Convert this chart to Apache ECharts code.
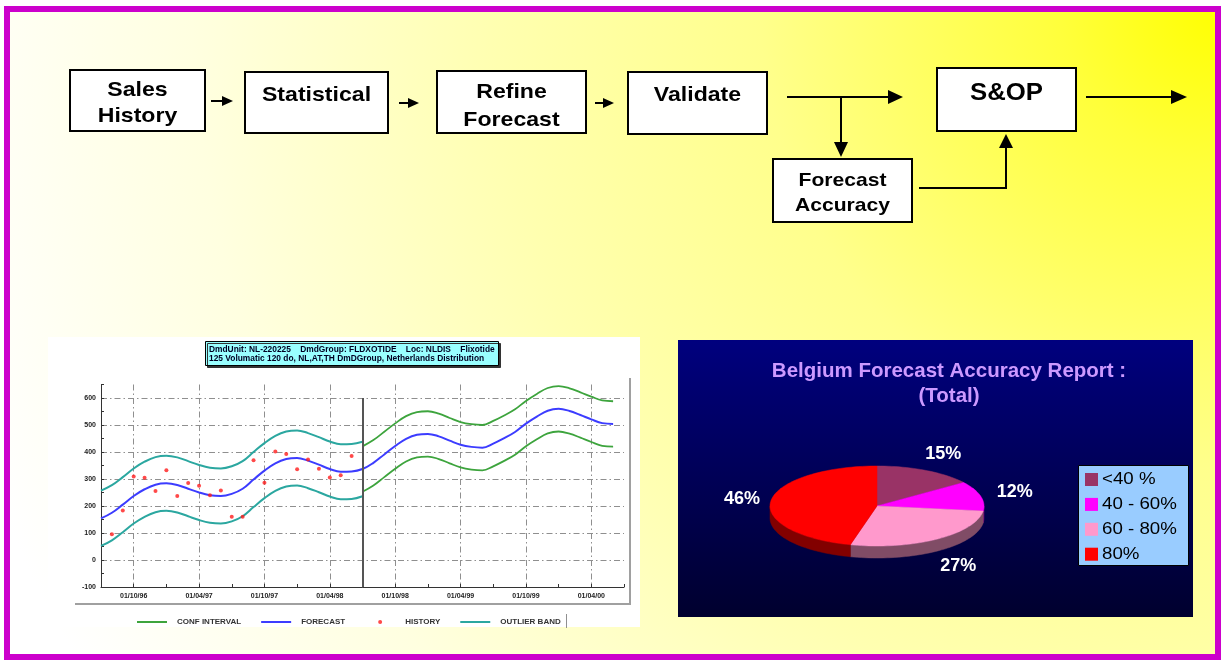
<!DOCTYPE html>
<html>
<head>
<meta charset="utf-8">
<title>Demand planning cycle</title>
<script src="https://cdn.jsdelivr.net/npm/echarts@6/dist/echarts.min.js"></script>
<style>
  html, body { margin: 0; padding: 0; background: #ffffff; }
  #main { width: 1226px; height: 662px; }
</style>
</head>
<body>
<div id="main"></div>
<script>
// ---------- process flow ----------
const processSteps = ['Sales\nHistory', 'Statistical', 'Refine\nForecast', 'Validate', 'Forecast\nAccuracy', 'S&OP'];

// ---------- forecast chart (monthly, dd/mm/yy) ----------
const months = [
  '01/07/96', '01/08/96', '01/09/96', '01/10/96', '01/11/96', '01/12/96',
  '01/01/97', '01/02/97', '01/03/97', '01/04/97', '01/05/97', '01/06/97',
  '01/07/97', '01/08/97', '01/09/97', '01/10/97', '01/11/97', '01/12/97',
  '01/01/98', '01/02/98', '01/03/98', '01/04/98', '01/05/98', '01/06/98',
  '01/07/98', '01/08/98', '01/09/98', '01/10/98', '01/11/98', '01/12/98',
  '01/01/99', '01/02/99', '01/03/99', '01/04/99', '01/05/99', '01/06/99',
  '01/07/99', '01/08/99', '01/09/99', '01/10/99', '01/11/99', '01/12/99',
  '01/01/00', '01/02/00', '01/03/00', '01/04/00', '01/05/00', '01/06/00',
  '01/07/00'
];
const historyStart = '01/08/96';
const forecastStart = '01/07/98';

const history = [95, 183, 309, 305, 256, 332, 237, 285, 275, 240, 257, 160,
  160, 369, 286, 402, 393, 336, 372, 338, 306, 314, 385];

const forecast = [154, 175, 205, 237, 262, 279, 284, 278, 264, 250, 240, 237,
  245, 264, 298, 331, 358, 374, 378, 368, 353, 337, 327, 328,
  337, 360, 391, 422, 449, 464, 467, 458, 442, 427, 419, 416,
  431, 451, 474, 505, 531, 553, 560, 552, 537, 521, 507, 504];

const outlierUpper = [257, 277, 307, 339, 364, 381, 386, 380, 366, 352, 342, 339,
  347, 366, 400, 433, 460, 476, 480, 470, 455, 439, 429, 430, 438];
const outlierLower = [52, 73, 103, 135, 160, 177, 182, 176, 162, 148, 138, 135,
  143, 162, 196, 229, 256, 272, 276, 266, 251, 235, 225, 226, 236];

const confUpper = [421, 444, 475, 506, 533, 548, 551, 542, 526, 511, 503, 500,
  515, 535, 558, 589, 615, 637, 644, 636, 621, 605, 591, 588];
const confLower = [253, 276, 307, 338, 365, 380, 383, 374, 358, 343, 335, 332,
  347, 367, 390, 421, 447, 469, 476, 468, 453, 437, 423, 420];

const chartHeader = [
  'DmdUnit: NL-220225    DmdGroup: FLDXOTIDE    Loc: NLDIS    Flixotide',
  '125 Volumatic 120 do, NL,AT,TH DmDGroup, Netherlands Distribution'
];
const legendNames = ['CONF INTERVAL', 'FORECAST', 'HISTORY', 'OUTLIER BAND'];

// ---------- accuracy pie ----------
const accuracyTitle = ['Belgium Forecast Accuracy Report :', '(Total)'];
const accuracyBands = ['<40 %', '40 - 60%', '60 - 80%', '80%'];
const accuracyShares = [15, 12, 27, 46];

// ---------- styling ----------
const FONT = '"Liberation Sans", Arial, Helvetica, sans-serif';
const C = {
  teal: '#2ba7a0', blue: '#3c3cff', green: '#3da43d', red: '#ff1c1c',
  grid: '#8f8f8f', axis: '#333333'
};
const sliceColors = ['#993366', '#ff00ff', '#ff99cc', '#ff0000'];
const sliceSides = ['#4d1a33', '#800080', '#804c66', '#820000'];
const PIE = { cx: 877, cy: 506, rx: 107, ry: 40, depth: 12 };

const chart = echarts.init(document.getElementById('main'), null, { renderer: 'canvas' });

const historyIdx = months.indexOf(historyStart);
const forecastIdx = months.indexOf(forecastStart);
const monthPart = (label) => label.slice(3, 5);
const isLabelMonth = (i) => ['10', '04'].includes(monthPart(months[i]));
const isQuarterMonth = (i) => ['01', '04', '07', '10'].includes(monthPart(months[i]));

// ---------- flowchart graphics ----------
const flow = [];
function box(x, y, w, h) {
  flow.push({ type: 'rect', shape: { x, y, width: w, height: h },
    style: { fill: '#ffffff', stroke: '#000000', lineWidth: 2 }, z: 5 });
}
function label(text, x, y, size, sx) {
  flow.push({ type: 'text', x, y, scaleX: sx, z: 6,
    style: { text, font: 'bold ' + size + 'px ' + FONT, fill: '#000000', align: 'center', verticalAlign: 'middle' } });
}
function line(points) {
  flow.push({ type: 'polyline', shape: { points }, style: { stroke: '#000000', lineWidth: 2, fill: null }, z: 5 });
}
function head(points) {
  flow.push({ type: 'polygon', shape: { points }, style: { fill: '#000000' }, z: 5 });
}
const [sSales, sStat, sRefine, sValid, sAcc, sSop] = processSteps;
box(70, 70, 135, 61);   sSales.split('\n').forEach((t, i) => label(t, 137.5, 90 + i * 26, 21, 1.1));
box(245, 72, 143, 61);  label(sStat, 316.5, 95, 21, 1.1);
box(437, 71, 149, 62);  sRefine.split('\n').forEach((t, i) => label(t, 511.5, 92 + i * 28, 21, 1.1));
box(628, 72, 139, 62);  label(sValid, 697.5, 95, 21, 1.1);
box(773, 159, 139, 63); sAcc.split('\n').forEach((t, i) => label(t, 842.5, 181 + i * 25, 19, 1.11));
box(937, 68, 139, 63);  label(sSop, 1006.5, 94, 23, 1.12);

line([[211, 101], [224, 101]]); head([[222, 96], [233, 101], [222, 106]]);
line([[399, 103], [410, 103]]); head([[408, 98], [419, 103], [408, 108]]);
line([[595, 103], [605, 103]]); head([[603, 98], [614, 103], [603, 108]]);
line([[787, 97], [890, 97]]);   head([[888, 90], [903, 97], [888, 104]]);
line([[841, 97], [841, 144]]);  head([[834, 142], [841, 157], [848, 142]]);
line([[919, 188], [1006, 188], [1006, 146]]); head([[999, 148], [1006, 134], [1013, 148]]);
line([[1086, 97], [1173, 97]]); head([[1171, 90], [1187, 97], [1171, 104]]);

// ---------- panels ----------
const panels = [
  { type: 'rect', z: -20, shape: { x: 0, y: 0, width: 1226, height: 662 }, style: { fill: '#ffffff' } },
  { type: 'rect', z: -19, shape: { x: 7, y: 9, width: 1211, height: 648 },
    style: {
      fill: new echarts.graphic.RadialGradient(1222, 6, 1320, [
        { offset: 0, color: '#ffff00' }, { offset: 0.12, color: '#ffff3a' },
        { offset: 0.35, color: '#ffff8c' }, { offset: 0.55, color: '#ffffb0' },
        { offset: 0.78, color: '#ffffe0' }, { offset: 1, color: '#ffffff' }
      ], true),
      stroke: '#cc00cc', lineWidth: 6
    } },
  // forecast chart panel
  { type: 'rect', z: -10, shape: { x: 48, y: 337, width: 592, height: 290 }, style: { fill: '#ffffff' } },
  { type: 'polyline', z: -9, shape: { points: [[75, 604], [630, 604], [630, 378]] },
    style: { stroke: '#a0a0a0', lineWidth: 2, fill: null } },
  { type: 'line', z: -9, shape: { x1: 566.5, y1: 614, x2: 566.5, y2: 628 },
    style: { stroke: '#909090', lineWidth: 1 } },
  // accuracy panel
  { type: 'rect', z: -10, shape: { x: 678, y: 340, width: 515, height: 277 },
    style: { fill: new echarts.graphic.LinearGradient(0, 0, 0, 1, [
      { offset: 0, color: '#00007e' }, { offset: 1, color: '#00002e' }]) } },
  // accuracy legend
  { type: 'rect', z: 8, shape: { x: 1078.5, y: 465.5, width: 110, height: 100 },
    style: { fill: '#99ccff', stroke: '#000000', lineWidth: 1 } }
];
accuracyBands.forEach((name, i) => {
  panels.push({ type: 'rect', z: 9, shape: { x: 1085, y: 473 + i * 24.9, width: 13, height: 13 },
    style: { fill: sliceColors[i] } });
  panels.push({ type: 'text', z: 9, x: 1102, y: 479.3 + i * 24.9, scaleX: 1.1,
    style: { text: name, font: '17px ' + FONT, fill: '#000000', align: 'left', verticalAlign: 'middle' } });
});

// ---------- 3-D style pie drawn from the shares ----------
function piePoint(deg, rx, ry, dy) {
  const t = deg * Math.PI / 180;
  return [PIE.cx + rx * Math.sin(t), PIE.cy - ry * Math.cos(t) + dy];
}
function arc(a0, a1, rx, ry, dy) {
  const pts = [];
  const n = Math.max(2, Math.ceil((a1 - a0) / 2));
  for (let k = 0; k <= n; k++) pts.push(piePoint(a0 + (a1 - a0) * k / n, rx, ry, dy));
  return pts;
}
const shareTotal = accuracyShares.reduce((a, b) => a + b, 0);
function renderSlice(params, api) {
  const i = params.dataIndex;
  const before = accuracyShares.slice(0, i).reduce((a, b) => a + b, 0);
  const val = api.value(0);
  const a0 = before / shareTotal * 360;
  const a1 = (before + val) / shareTotal * 360;
  const children = [];
  const s0 = Math.max(a0, 90), s1 = Math.min(a1, 270);
  if (s1 > s0) {
    const upper = arc(s0, s1, PIE.rx, PIE.ry, 0);
    const lower = arc(s0, s1, PIE.rx, PIE.ry, PIE.depth).reverse();
    children.push({ type: 'polygon', shape: { points: upper.concat(lower) },
      style: { fill: sliceSides[i], stroke: sliceSides[i], lineWidth: 0.5 } });
  }
  children.push({ type: 'polygon', shape: { points: [[PIE.cx, PIE.cy]].concat(arc(a0, a1, PIE.rx, PIE.ry, 0)) },
    style: { fill: sliceColors[i], stroke: sliceColors[i], lineWidth: 0.5 } });
  const mid = (a0 + a1) / 2;
  const front = Math.cos(mid * Math.PI / 180) < 0 ? PIE.depth : 0;
  const lp = piePoint(mid, PIE.rx * 1.3, PIE.ry * 1.45, front);
  children.push({ type: 'text', x: lp[0] + 3, y: lp[1],
    style: { text: val + '%', font: 'bold 18px ' + FONT, fill: '#ffffff', align: 'center', verticalAlign: 'middle' } });
  return { type: 'group', children };
}

const dashDot = [6, 3, 1.5, 3];
// legend glyphs: a thin stroke for lines, a small centred dot for the history points
const lineIcon = 'path://M0,0L0.01,0M30,4L30.01,4M0,1H30V3H0Z';
const dotIcon = 'path://M0,0L0.01,0M30,4L30.01,4M15,0A2,2,0,1,1,15,4A2,2,0,1,1,15,0Z';

const option = {
  animation: false,
  textStyle: { fontFamily: FONT },
  title: [
    {
      text: chartHeader.join('\n'),
      left: 205, top: 341,
      padding: [4, 4, 3, 4],
      backgroundColor: '#99ffff',
      borderColor: '#000000', borderWidth: 1,
      shadowColor: '#333333', shadowOffsetX: 2, shadowOffsetY: 2, shadowBlur: 0,
      textStyle: { fontSize: 8.4, fontWeight: 'bold', color: '#000022', lineHeight: 9, fontFamily: FONT }
    },
    {
      text: accuracyTitle.join('\n'),
      left: 944, top: 354, textAlign: 'center',
      textStyle: { fontSize: 20.5, fontWeight: 'bold', color: '#cc99ff', lineHeight: 25, fontFamily: FONT }
    }
  ],
  legend: {
    left: 132, top: 613,
    itemWidth: 30, itemHeight: 4, itemGap: 20,
    selectedMode: false,
    textStyle: { fontSize: 8, fontWeight: 'bold', color: '#333333', padding: [0, 0, 0, 5], fontFamily: FONT },
    data: legendNames.map((name) => ({ name, icon: name === 'HISTORY' ? dotIcon : lineIcon }))
  },
  grid: { left: 101, top: 384.5, width: 523, height: 202.5 },
  xAxis: {
    type: 'category', data: months, boundaryGap: false,
    axisLine: { onZero: false, lineStyle: { color: C.axis, width: 1 } },
    axisTick: { show: true, inside: true, length: 3, interval: (i) => isQuarterMonth(i), lineStyle: { color: C.axis } },
    axisLabel: { interval: (i) => isLabelMonth(i), fontSize: 7, fontWeight: 'bold', color: '#222222', margin: 6 },
    splitLine: { show: true, interval: (i) => isLabelMonth(i), lineStyle: { color: C.grid, type: dashDot, width: 1 } }
  },
  yAxis: {
    type: 'value', min: -100, max: 650, interval: 100,
    axisLine: { show: true, lineStyle: { color: C.axis, width: 1 } },
    axisTick: { show: true, inside: true, length: 3, lineStyle: { color: C.axis } },
    minorTick: { show: true, splitNumber: 2, length: 3, lineStyle: { color: C.axis } },
    axisLabel: { showMaxLabel: false, fontSize: 7, fontWeight: 'bold', color: '#222222', margin: 5 },
    splitLine: { show: true, showMaxLine: false, lineStyle: { color: C.grid, type: dashDot, width: 1 } }
  },
  graphic: { elements: panels.concat(flow) },
  series: [
    { name: 'OUTLIER BAND', type: 'line', data: outlierUpper, smooth: 0.4, showSymbol: false,
      lineStyle: { color: C.teal, width: 2 }, itemStyle: { color: C.teal }, z: 3 },
    { name: 'OUTLIER BAND', type: 'line', data: outlierLower, smooth: 0.4, showSymbol: false,
      lineStyle: { color: C.teal, width: 2 }, itemStyle: { color: C.teal }, z: 3 },
    { name: 'CONF INTERVAL', type: 'line', data: confUpper.map((v, i) => [forecastIdx + i, v]), smooth: 0.4, showSymbol: false,
      lineStyle: { color: C.green, width: 1.8 }, itemStyle: { color: C.green }, z: 3 },
    { name: 'CONF INTERVAL', type: 'line', data: confLower.map((v, i) => [forecastIdx + i, v]), smooth: 0.4, showSymbol: false,
      lineStyle: { color: C.green, width: 1.8 }, itemStyle: { color: C.green }, z: 3 },
    { name: 'FORECAST', type: 'line', data: forecast, smooth: 0.4, showSymbol: false,
      lineStyle: { color: C.blue, width: 2 }, itemStyle: { color: C.blue }, z: 4,
      markLine: { symbol: 'none', silent: true, label: { show: false },
        lineStyle: { color: '#555555', width: 2, type: 'solid' },
        data: [[{ coord: [forecastIdx, 600] }, { coord: [forecastIdx, -100] }]] } },
    { name: 'HISTORY', type: 'scatter', data: history.map((v, i) => [historyIdx + i, v]),
      symbol: 'circle', symbolSize: 4, itemStyle: { color: C.red }, z: 5 },
    { name: 'Forecast accuracy', type: 'custom', coordinateSystem: 'none', renderItem: renderSlice,
      data: accuracyShares.map((v, i) => ({ name: accuracyBands[i], value: [v] })), z: 6, silent: true }
  ]
};
chart.setOption(option);
</script>
</body>
</html>
